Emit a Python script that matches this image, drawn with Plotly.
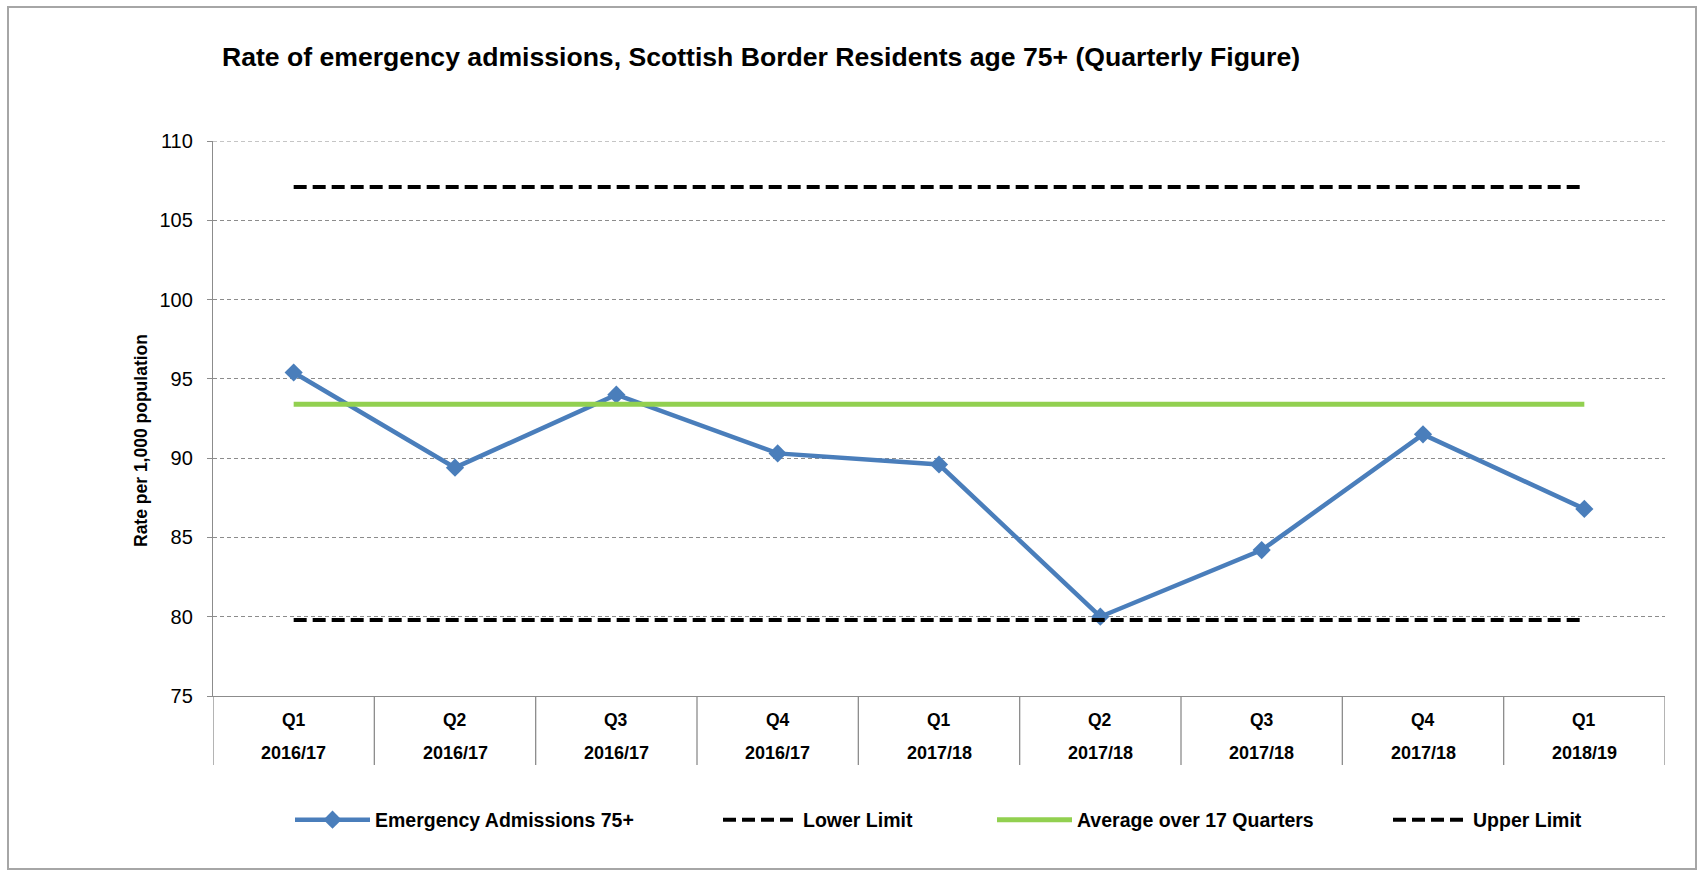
import plotly.graph_objects as go

# ---- data ----
quarters = ["Q1", "Q2", "Q3", "Q4", "Q1", "Q2", "Q3", "Q4", "Q1"]
years = ["2016/17", "2016/17", "2016/17", "2016/17", "2017/18", "2017/18", "2017/18", "2017/18", "2018/19"]
admissions = [95.4, 89.4, 94.0, 90.3, 89.6, 80.0, 84.2, 91.5, 86.8]
lower_limit = [79.8, 79.8, 79.8, 79.8, 79.8, 79.8, 79.8, 79.8, 79.8]
average = [93.4, 93.4, 93.4, 93.4, 93.4, 93.4, 93.4, 93.4, 93.4]
upper_limit = [107.1, 107.1, 107.1, 107.1, 107.1, 107.1, 107.1, 107.1, 107.1]
y_ticks = [75, 80, 85, 90, 95, 100, 105, 110]

categories = [f"{q} {y}" for q, y in zip(quarters, years)]

# ---- layout geometry (pixels) ----
W, H = 1700, 871
L, R, T, B = 213, 1665, 141, 696
PW, PH = R - L, B - T

def px_x(p):
    return (p - L) / PW

def px_y(p):
    return (B - p) / PH

FONT = "Liberation Sans, Arial, sans-serif"
GRID = "#8c8c8c"
AXIS = "#8c8c8c"

fig = go.Figure()

fig.add_trace(go.Scatter(
    x=categories, y=admissions, name="Emergency Admissions 75+",
    mode="lines+markers",
    line=dict(color="#4a7ebb", width=4.5),
    marker=dict(symbol="diamond", size=14, color="#4a7ebb"),
    legend="legend",
))
fig.add_trace(go.Scatter(
    x=categories, y=lower_limit, name="Lower Limit", mode="lines",
    line=dict(color="black", width=4, dash="13px,6px"),
    legend="legend2",
))
fig.add_trace(go.Scatter(
    x=categories, y=average, name="Average over 17 Quarters", mode="lines",
    line=dict(color="#92d050", width=5),
    legend="legend3",
))
fig.add_trace(go.Scatter(
    x=categories, y=upper_limit, name="Upper Limit", mode="lines",
    line=dict(color="black", width=4, dash="13px,6px"),
    legend="legend4",
))

shapes = []
# top gridline (at the range edge, which plotly omits)
shapes.append(dict(type="line", xref="paper", yref="y", x0=0, x1=1,
                   y0=y_ticks[-1], y1=y_ticks[-1], layer="below",
                   line=dict(color=GRID, width=1, dash="4px,3px")))
# category separators below the x axis
for i in range(len(categories) + 1):
    shapes.append(dict(type="line", xref="x", yref="paper",
                       x0=i - 0.5, x1=i - 0.5, y0=0, y1=px_y(765),
                       line=dict(color=AXIS, width=1.3)))
# outer frame
shapes.append(dict(type="rect", xref="paper", yref="paper",
                   x0=px_x(8), x1=px_x(1696), y0=px_y(869), y1=px_y(7),
                   line=dict(color="#a6a6a6", width=2), layer="below"))

annotations = []
for i, (q, y) in enumerate(zip(quarters, years)):
    annotations.append(dict(x=i, y=px_y(720), xref="x", yref="paper", text=q,
                            showarrow=False, yanchor="middle",
                            font=dict(family=FONT, size=17.5, color="black", weight="bold")))
    annotations.append(dict(x=i, y=px_y(753), xref="x", yref="paper", text=y,
                            showarrow=False, yanchor="middle",
                            font=dict(family=FONT, size=18, color="black", weight="bold")))
annotations.append(dict(x=px_x(141), y=px_y(441), xref="paper", yref="paper",
                        text="Rate per 1,000 population", textangle=-90, showarrow=False,
                        xanchor="center", yanchor="middle",
                        font=dict(family=FONT, size=17.5, color="black", weight="bold")))

legend_font = dict(family=FONT, size=19.5, color="black", weight="bold")
legend_x = [295, 723, 997, 1393]
legend_common = dict(orientation="h", yanchor="middle", xanchor="left",
                     font=legend_font, itemwidth=75, bgcolor="rgba(0,0,0,0)")

fig.update_layout(
    width=W, height=H,
    margin=dict(l=L, r=W - R, t=T, b=H - B, pad=0),
    paper_bgcolor="white", plot_bgcolor="white",
    title=dict(text="Rate of emergency admissions, Scottish Border Residents age 75+ (Quarterly Figure)",
               xref="container", yref="container", x=222 / W, y=1 - 57 / H,
               xanchor="left", yanchor="middle",
               font=dict(family=FONT, size=26.6, color="black", weight="bold")),
    xaxis=dict(type="category", range=[-0.5, len(categories) - 0.5],
               showticklabels=False, ticks="", showgrid=False,
               showline=True, linecolor=AXIS, linewidth=1.3, zeroline=False),
    yaxis=dict(range=[75, 110], tickvals=y_ticks, ticks="outside", ticklen=5,
               tickcolor=AXIS, tickwidth=1.3, ticklabelstandoff=10,
               showline=True, linecolor=AXIS, linewidth=1.3,
               showgrid=True, gridcolor=GRID, gridwidth=1, griddash="4px,3px",
               zeroline=False,
               tickfont=dict(family=FONT, size=20, color="black")),
    shapes=shapes,
    annotations=annotations,
    legend=dict(x=px_x(legend_x[0] - 5), y=px_y(820), **legend_common),
    legend2=dict(x=px_x(legend_x[1] - 5), y=px_y(820), **legend_common),
    legend3=dict(x=px_x(legend_x[2] - 5), y=px_y(820), **legend_common),
    legend4=dict(x=px_x(legend_x[3] - 5), y=px_y(820), **legend_common),
    showlegend=True,
)

fig.write_html("out.html")
